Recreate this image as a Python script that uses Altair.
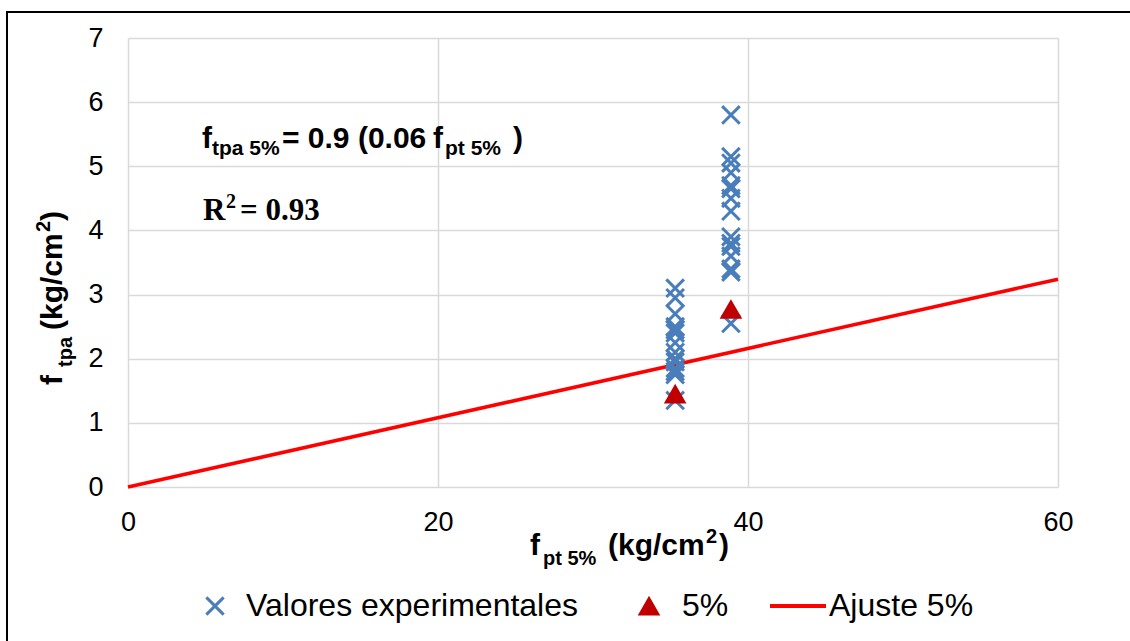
import altair as alt
import pandas as pd

# ---------------- data ----------------
exp_x = [35.3] * 14 + [38.9] * 15
exp_y = [3.1, 2.95, 2.7, 2.5, 2.45, 2.4, 2.25, 2.1, 2.0, 1.95, 1.85, 1.8, 1.75, 1.35,
         5.8, 5.15, 5.05, 4.9, 4.7, 4.65, 4.5, 4.3, 3.9, 3.8, 3.75, 3.6, 3.4, 3.35, 2.55]
tri_x = [35.3, 38.9]
tri_y = [1.45, 2.77]
fit_x = [0, 60]
fit_y = [0, 3.24]
x_ticks = [0, 20, 40, 60]
y_ticks = [0, 1, 2, 3, 4, 5, 6, 7]
legend_labels = ["Valores experimentales", "5%", "Ajuste 5%"]

BLUE = "#4a7ebb"
DARKRED = "#c00000"
RED = "#ff0000"
SANS = "Liberation Sans"
SERIF = "Liberation Serif"
XPATH = "M-1,-1L1,1M-1,1L1,-1"

W, H = 930, 449

exp_df = pd.DataFrame({"x": exp_x, "y": exp_y})
tri_df = pd.DataFrame({"x": tri_x, "y": tri_y})
fit_df = pd.DataFrame({"x": fit_x, "y": fit_y})

xs = alt.Scale(domain=[0, 60], nice=False)
ys = alt.Scale(domain=[0, 7], nice=False)

x_axis = alt.Axis(values=x_ticks, title=None, grid=True, domain=False, ticks=False,
                  labelFontSize=27, labelFont=SANS, labelColor="black", labelPadding=22,
                  gridColor="#d9d9d9", gridWidth=1.5, labelFlush=False, format="d")
y_axis = alt.Axis(values=y_ticks, title=None, grid=True, domain=False, ticks=False,
                  labelFontSize=27, labelFont=SANS, labelColor="black", labelPadding=25,
                  gridColor="#d9d9d9", gridWidth=1.5, format="d")

line = alt.Chart(fit_df).mark_line(color=RED, strokeWidth=3.5).encode(
    x=alt.X("x:Q", scale=xs, axis=x_axis),
    y=alt.Y("y:Q", scale=ys, axis=y_axis),
)
pts = alt.Chart(exp_df).mark_point(shape=XPATH, size=310, filled=False, stroke=BLUE,
                                   strokeWidth=3, opacity=1).encode(
    x=alt.X("x:Q", scale=xs), y=alt.Y("y:Q", scale=ys))
tris = alt.Chart(tri_df).mark_point(shape="triangle-up", size=400, filled=True, fill=DARKRED,
                                    stroke=DARKRED, strokeWidth=1.5, opacity=1).encode(
    x=alt.X("x:Q", scale=xs), y=alt.Y("y:Q", scale=ys))


def txt(s, x, y, size, font=SANS, weight="bold", angle=0, baseline="alphabetic"):
    return alt.Chart(pd.DataFrame({"t": [s]})).mark_text(
        align="left", baseline=baseline, fontSize=size, font=font, fontWeight=weight,
        angle=angle, color="black").encode(x=alt.value(x), y=alt.value(y), text="t:N")


texts = [
    # equation
    txt("f", 74, 110, 30),
    txt("tpa 5%", 84, 117, 21),
    txt("= 0.9 (0.06", 154, 110, 30),
    txt("f", 305, 110, 30),
    txt("pt 5%", 317, 117, 21),
    txt(")", 385, 110, 30),
    # R2
    txt("R", 75, 182, 31, font=SERIF),
    txt("2", 98, 170, 20, font=SERIF),
    txt("= 0.93", 112, 182, 31, font=SERIF),
    # x title
    txt("f", 402, 517, 30),
    txt("pt 5%", 415, 527, 20),
    txt("(kg/cm", 480, 517, 30),
    txt("2", 578, 505, 20),
    txt(")", 591, 517, 30),
    # y title (rotated)
    txt("f", -66, 347, 30, angle=270),
    txt("tpa", -56, 329, 20, angle=270),
    txt("(kg/cm", -66, 292, 30, angle=270),
    txt("2", -78, 194, 20, angle=270),
    txt(")", -66, 183, 30, angle=270),
]

# ---------------- legend ----------------
one = pd.DataFrame({"a": [0]})
LY = 568
leg = [
    alt.Chart(one).mark_point(shape=XPATH, size=300, filled=False, stroke=BLUE, strokeWidth=3,
                              opacity=1).encode(x=alt.value(87), y=alt.value(LY)),
    txt(legend_labels[0], 118, LY, 32, weight="normal", baseline="middle"),
    alt.Chart(one).mark_point(shape="triangle-up", size=400, filled=True, fill=DARKRED,
                              stroke=DARKRED, strokeWidth=1.5, opacity=1).encode(
        x=alt.value(521), y=alt.value(LY)),
    txt(legend_labels[1], 554, LY, 32, weight="normal", baseline="middle"),
    alt.Chart(one).mark_rule(color=RED, strokeWidth=4).encode(
        x=alt.value(642), x2=alt.value(698), y=alt.value(LY)),
    txt(legend_labels[2], 701, LY, 32, weight="normal", baseline="middle"),
]

border = alt.Chart(one).mark_rect(fill="transparent", stroke="black", strokeWidth=2).encode(
    x=alt.value(-121), x2=alt.value(1030), y=alt.value(-26), y2=alt.value(630))

chart = alt.layer(line, pts, tris, *texts, *leg, border).properties(
    width=W, height=H,
    autosize=alt.AutoSizeParams(type="none"),
    padding={"left": 128, "top": 38, "right": 72, "bottom": 154},
    background="white",
).configure_view(strokeWidth=0)

chart.save("out.html", embed_options={"renderer": "svg", "actions": False})
